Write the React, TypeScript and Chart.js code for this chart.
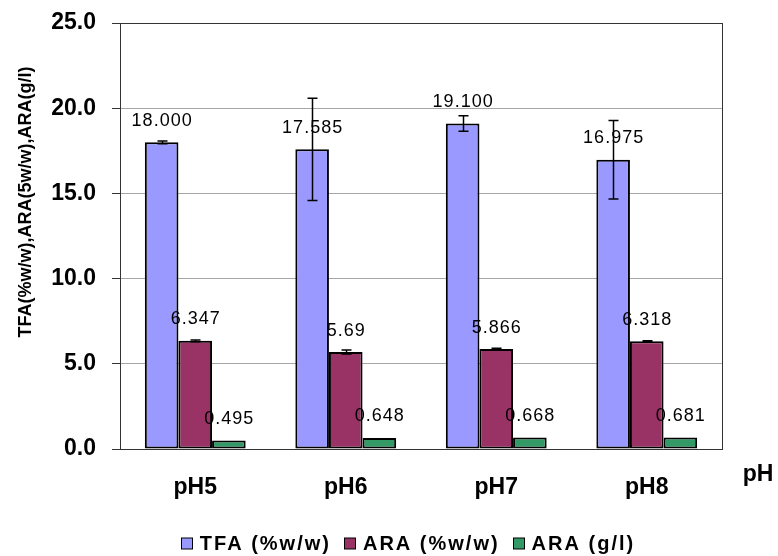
import React, { useEffect, useRef } from 'react';
import { Chart, registerables } from 'chart.js';

Chart.register(...registerables);

const categories = ['pH5', 'pH6', 'pH7', 'pH8'];
const seriesNames = ['TFA (%w/w)', 'ARA (%w/w)', 'ARA (g/l)'];
const seriesColors = ['#9999FF', '#993366', '#339966'];
const tfaValues = [18.0, 17.585, 19.1, 16.975];
const araValues = [6.347, 5.69, 5.866, 6.318];
const araGlValues = [0.495, 0.648, 0.668, 0.681];
const tfaErrors = [0.08, 3.0, 0.46, 2.3];
const araErrors = [0.05, 0.12, 0.05, 0.04];
const araGlErrors = [0, 0, 0, 0];
const tfaLabels = ['18.000', '17.585', '19.100', '16.975'];
const araLabels = ['6.347', '5.69', '5.866', '6.318'];
const araGlLabels = ['0.495', '0.648', '0.668', '0.681'];
const yMin = 0;
const yMax = 25;
const yStep = 5;
const yTitle = 'TFA(%w/w),ARA(5w/w),ARA(g/l)';
const xTitle = 'pH';

const FONT = '"Liberation Sans", Arial, sans-serif';

const overlayPlugin = {
  id: 'overlay',
  afterDatasetsDraw(chart: any) {
    const ctx = chart.ctx;
    const ys = chart.scales.y;
    ctx.save();
    chart.data.datasets.forEach((ds: any, di: number) => {
      const meta = chart.getDatasetMeta(di);
      meta.data.forEach((bar: any, i: number) => {
        ctx.fillStyle = '#000';
        ctx.font = `18px ${FONT}`;
        (ctx as any).letterSpacing = '1px';
        ctx.textAlign = 'center';
        ctx.textBaseline = 'middle';
        ctx.fillText(ds.valueLabels[i], bar.x + 0.5, bar.y - 21.5);
        const e = ds.errors[i];
        if (e > 0) {
          const v = ds.data[i];
          const yTop = ys.getPixelForValue(v + e);
          const yBot = ys.getPixelForValue(v - e);
          const x = Math.round(bar.x) + 0.5;
          ctx.strokeStyle = '#000';
          ctx.lineWidth = 1.5;
          ctx.beginPath();
          ctx.moveTo(x, yTop);
          ctx.lineTo(x, yBot);
          ctx.moveTo(x - 5, yTop);
          ctx.lineTo(x + 5, yTop);
          ctx.moveTo(x - 5, yBot);
          ctx.lineTo(x + 5, yBot);
          ctx.stroke();
        }
      });
    });
    ctx.restore();
  },
  afterDraw(chart: any) {
    const ctx = chart.ctx;
    const a = chart.chartArea;
    ctx.save();
    ctx.strokeStyle = '#333';
    ctx.lineWidth = 1;
    ctx.strokeRect(Math.round(a.left) + 0.5, Math.round(a.top) + 0.5, Math.round(a.right - a.left), Math.round(a.bottom - a.top));
    // y title
    ctx.fillStyle = '#000';
    ctx.font = `bold 18px ${FONT}`;
    ctx.textAlign = 'center';
    ctx.textBaseline = 'middle';
    ctx.translate(26, 202);
    ctx.rotate(-Math.PI / 2);
    ctx.fillText(yTitle, 0, 0);
    ctx.restore();
    // x title
    ctx.save();
    ctx.fillStyle = '#000';
    ctx.font = `bold 23px ${FONT}`;
    ctx.textAlign = 'center';
    ctx.textBaseline = 'middle';
    ctx.fillText(xTitle, a.right + 36, a.bottom + 26);
    ctx.restore();
    // legend
    ctx.save();
    ctx.font = `bold 20px ${FONT}`;
    (ctx as any).letterSpacing = '2px';
    const box = 11;
    const gapBox = 8;
    const gapItem = 13;
    const widths = seriesNames.map((n) => ctx.measureText(n).width);
    const total = widths.reduce((s, w) => s + w + box + gapBox, 0) + gapItem * (seriesNames.length - 1);
    let x = (a.left + a.right) / 2 - 13 - total / 2;
    const cy = 543;
    seriesNames.forEach((n, i) => {
      ctx.fillStyle = seriesColors[i];
      ctx.fillRect(Math.round(x) + 0.5, cy - box / 2 + 0.5, box, box);
      ctx.strokeStyle = '#000';
      ctx.lineWidth = 1;
      ctx.strokeRect(Math.round(x) + 0.5, cy - box / 2 + 0.5, box, box);
      x += box + gapBox;
      ctx.fillStyle = '#000';
      ctx.textAlign = 'left';
      ctx.textBaseline = 'middle';
      ctx.fillText(n, x, cy + 1);
      x += widths[i] + gapItem;
    });
    ctx.restore();
  },
};

const spacingPlugin = {
  id: 'spacing',
  beforeDraw(chart: any) {
    (chart.ctx as any).letterSpacing = '0px';
  },
};

export default function App() {
  const ref = useRef<HTMLCanvasElement | null>(null);
  useEffect(() => {
    document.body.style.margin = '0';
    const values = [tfaValues, araValues, araGlValues];
    const errs = [tfaErrors, araErrors, araGlErrors];
    const labs = [tfaLabels, araLabels, araGlLabels];
    const chart = new Chart(ref.current as HTMLCanvasElement, {
      type: 'bar',
      data: {
        labels: categories,
        datasets: seriesNames.map((name, i) => ({
          label: name,
          data: values[i],
          errors: errs[i],
          valueLabels: labs[i],
          backgroundColor: seriesColors[i],
          borderColor: '#000',
          borderWidth: 2,
          borderSkipped: false,
          categoryPercentage: 0.67,
          barPercentage: 1.0,
        })) as any,
      },
      options: {
        responsive: false,
        animation: false,
        layout: { padding: { top: 23, right: 56, left: 0, bottom: 34 } },
        plugins: {
          tooltip: { enabled: false },
          legend: { display: false },
        },
        scales: {
          x: {
            grid: { display: false },
            border: { display: false },
            ticks: { color: '#000', padding: 17, font: { family: FONT, size: 23, weight: 'bold' } },
            afterFit: (s: any) => { s.height = 73; },
          },
          y: {
            min: yMin,
            max: yMax,
            grid: { color: '#a6a6a6', tickColor: '#333', tickLength: 8 },
            border: { display: false },
            ticks: {
              stepSize: yStep,
              color: '#000',
              padding: 16,
              font: { family: FONT, size: 23, weight: 'bold', lineHeight: 0.5 },
              callback: (v: any) => Number(v).toFixed(1),
            },
            afterFit: (s: any) => { s.width = 120; },
          },
        },
      } as any,
      plugins: [spacingPlugin, overlayPlugin],
    });
    return () => chart.destroy();
  }, []);
  return (
    <div style={{ position: 'fixed', left: 0, top: 0, width: 778, height: 556 }}>
      <canvas ref={ref} width={778} height={556} />
    </div>
  );
}
